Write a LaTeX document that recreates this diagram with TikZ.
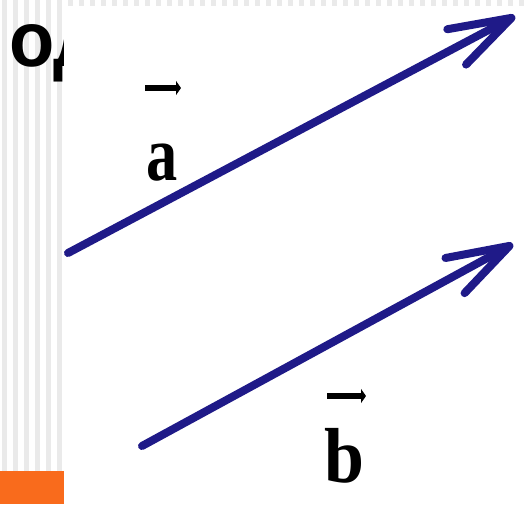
\documentclass[tikz,border=0pt]{standalone}
\usepackage{fontspec}
\setmainfont{Liberation Serif}
\newfontfamily\headfont{Liberation Sans}
\usetikzlibrary{arrows.meta}
\definecolor{Navy}{HTML}{1F1A88}
\definecolor{Stripe}{HTML}{EAEAEA}
\definecolor{Tab}{HTML}{F96B1C}

\begin{document}
\begin{tikzpicture}[x=1pt,y=-1pt,
  vecline/.style={Navy,line width=8pt,line cap=round,line join=round,-{Straight Barb[length=62pt,width=40pt,line cap=round,line join=round]}},
  veclbl/.style={font=\fontsize{78}{80}\selectfont\bfseries,inner sep=0pt,anchor=base},
  vecbar/.style={line width=5.5pt,-{Triangle[length=5pt,width=14pt]}}]
\useasboundingbox (0,0) rectangle (525,504);
\foreach \x in {2,13,...,519} {\fill[Stripe] (\x,0) rectangle ++(5,504);}
\node[anchor=base west,inner sep=0pt,font=\headfont\bfseries\fontsize{78}{80}\selectfont] (head) at (9,66) {\scalebox{0.95}[1]{од}};
\fill[white] (64,6) rectangle (525,504);
\fill[Tab] (0,471) rectangle (64,504);
\coordinate (a0) at (68,253);
\coordinate (a1) at (515,16);
\coordinate (b0) at (142,446);
\coordinate (b1) at (513,244);
\draw[vecline] (a0) -- (a1);
\draw[vecline] (b0) -- (b1);
\node[veclbl] (la) at (162,180) {\scalebox{0.8}[1]{a}};
\node[veclbl] (lb) at (344,482) {\scalebox{0.92}[1]{b}};
\draw[vecbar] ([shift={(-17,-92)}]la.base) -- ++(36,0);
\draw[vecbar] ([shift={(-17,-86)}]lb.base) -- ++(39,0);
\end{tikzpicture}
\end{document}
